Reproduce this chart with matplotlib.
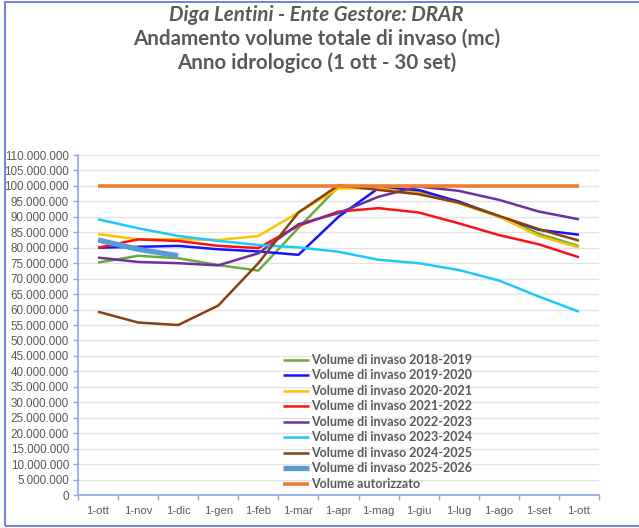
import matplotlib
matplotlib.use("Agg")
import matplotlib.pyplot as plt
from matplotlib.patches import Rectangle
from matplotlib.ticker import FuncFormatter, MultipleLocator

months = ["1-ott", "1-nov", "1-dic", "1-gen", "1-feb", "1-mar", "1-apr",
          "1-mag", "1-giu", "1-lug", "1-ago", "1-set", "1-ott"]

v2018_2019 = [75.2, 77.4, 76.6, 74.4, 72.6, 86.4, 99.8, 99.5, 98.0, 95.0, 90.3, 84.5, 80.5]
v2019_2020 = [80.0, 80.3, 80.6, 79.5, 78.8, 77.7, 90.0, 99.3, 98.7, 94.9, 90.1, 85.8, 84.2]
v2020_2021 = [84.4, 82.7, 82.8, 82.5, 83.8, 91.4, 99.2, 99.2, 97.6, 94.4, 90.1, 83.8, 80.1]
v2021_2022 = [80.0, 82.7, 82.2, 80.6, 79.9, 87.1, 91.7, 92.8, 91.4, 87.9, 84.1, 81.1, 76.9]
v2022_2023 = [76.8, 75.4, 75.0, 74.3, 78.2, 87.6, 91.2, 96.5, 99.8, 98.4, 95.5, 91.7, 89.2]
v2023_2024 = [89.2, 86.3, 83.8, 82.2, 80.9, 80.1, 78.7, 76.1, 75.0, 72.8, 69.4, 64.2, 59.3]
v2024_2025 = [59.3, 55.8, 55.0, 61.3, 75.0, 91.4, 100.2, 98.7, 97.3, 94.6, 90.3, 86.0, 82.3]
v2025_2026 = [82.5, 79.5, 77.4]
v_autorizzato = [100.0] * 13

labels = ["Volume di invaso 2018-2019", "Volume di invaso 2019-2020",
          "Volume di invaso 2020-2021", "Volume di invaso 2021-2022",
          "Volume di invaso 2022-2023", "Volume di invaso 2023-2024",
          "Volume di invaso 2024-2025", "Volume di invaso 2025-2026",
          "Volume autorizzato"]

series = [v2018_2019, v2019_2020, v2020_2021, v2021_2022, v2022_2023,
          v2023_2024, v2024_2025, v2025_2026, v_autorizzato]
colors = ["#6aab3c", "#1414ff", "#ffc000", "#ff1010", "#7030a0",
          "#1ec8ff", "#8b3f12", "#5b9bd5", "#ed7d31"]
widths = [1.8, 1.8, 1.8, 1.8, 1.8, 1.8, 1.8, 3.8, 2.6]

FONT = ["Lato", "DejaVu Sans"]
TXT = "#595959"

fig = plt.figure(figsize=(6.39, 5.28), dpi=100)
ax = fig.add_axes([78 / 639, 33 / 528, (599 - 78) / 639, (495 - 155) / 528])

for vals, lab, c, w in zip(series, labels, colors, widths):
    xs = list(range(len(vals)))
    ax.plot(xs, [v * 1e6 for v in vals], color=c, lw=w, label=lab,
            solid_capstyle="butt", zorder=3)

ax.set_xlim(-0.5, 12.5)
ax.set_ylim(0, 110e6)
ax.yaxis.set_major_locator(MultipleLocator(5e6))
ax.yaxis.set_major_formatter(FuncFormatter(lambda v, p: f"{int(round(v)):,}".replace(",", ".")))
ax.set_xticks(range(13))
ax.set_xticklabels(months)
ax.set_xticks([i - 0.5 for i in range(14)], minor=True)
ax.tick_params(axis="x", which="major", length=0, pad=8, labelsize=8.2, labelcolor=TXT)
ax.tick_params(axis="x", which="minor", length=3.5, color="#8fa6e8", width=1)
ax.tick_params(axis="y", length=3.5, color="#8fa6e8", width=1, labelsize=8.4, labelcolor=TXT, pad=3)
for lab in ax.get_xticklabels() + ax.get_yticklabels():
    lab.set_fontfamily(["Liberation Sans", "DejaVu Sans"])

ax.grid(axis="y", color="#e3e3e3", lw=1.0, zorder=0)
ax.set_axisbelow(True)
for s in ["top", "right"]:
    ax.spines[s].set_visible(False)
for s in ["left", "bottom"]:
    ax.spines[s].set_color("#8fa6e8")
    ax.spines[s].set_linewidth(1.2)

leg = ax.legend(loc="upper left", bbox_to_anchor=(0.393, 0.415), frameon=False,
                handlelength=2.1, handletextpad=0.2, labelspacing=0.28,
                borderaxespad=0, borderpad=0,
                prop={"family": FONT, "weight": "bold", "size": 9.0})
for t in leg.get_texts():
    t.set_color(TXT)

for y, txt, st in [(0.971, "Diga Lentini - Ente Gestore: DRAR", "italic"),
                   (0.926, "Andamento volume totale di invaso (mc)", "normal"),
                   (0.881, "Anno idrologico (1 ott - 30 set)", "normal")]:
    fig.text(0.495, y, txt, ha="center", va="center", fontsize=14.8, style=st,
             color=TXT, family=FONT, weight="bold")

fig.patches.append(Rectangle((5 / 639, 2 / 528), 1.2, 524 / 528, transform=fig.transFigure,
                             fill=False, edgecolor="#7080e0", lw=1.4))

fig.savefig("out.png", dpi=100)
